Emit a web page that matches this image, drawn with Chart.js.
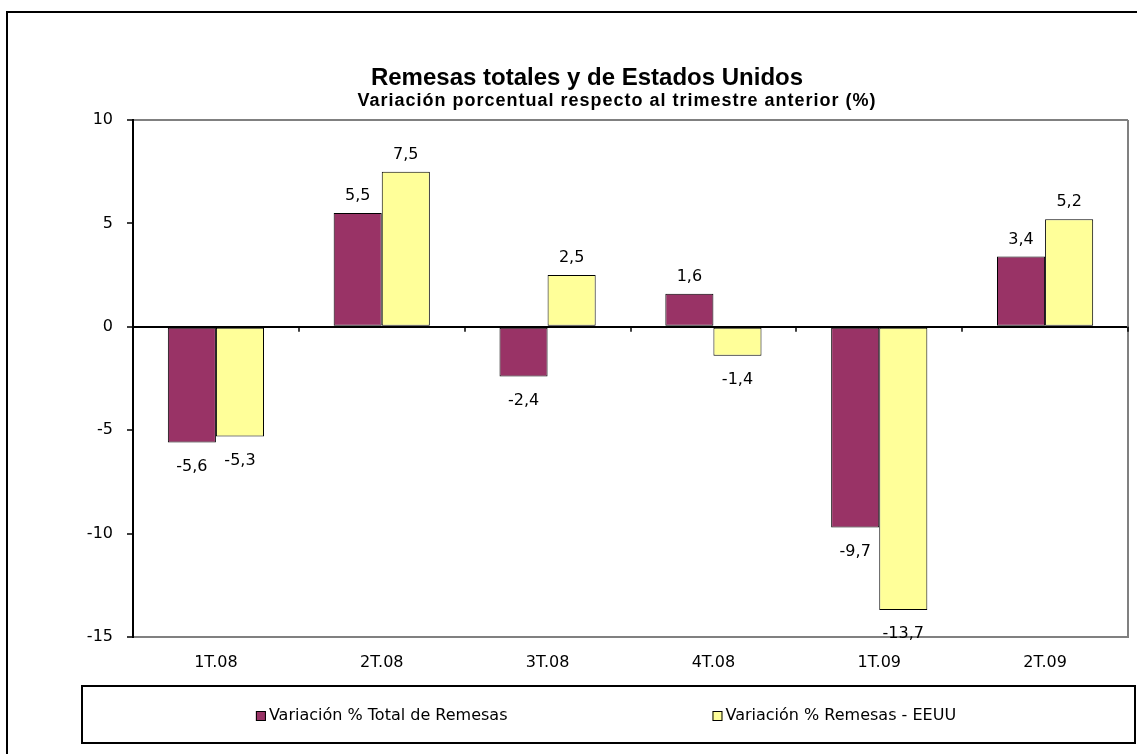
<!DOCTYPE html>
<html>
<head>
<meta charset="utf-8">
<script src="https://cdn.jsdelivr.net/npm/chart.js@4.4.0/dist/chart.umd.min.js"></script>
<style>
  html, body { margin: 0; padding: 0; background: #fff; }
  #wrap { width: 1137px; height: 754px; }
</style>
</head>
<body>
<div id="wrap"><canvas id="chart" width="1137" height="754"></canvas></div>
<script>
// data
const quarters = ['1T.08', '2T.08', '3T.08', '4T.08', '1T.09', '2T.09'];
const totalRemesas = [-5.6, 5.5, -2.4, 1.6, -9.7, 3.4];
const remesasEEUU = [-5.3, 7.5, 2.5, -1.4, -13.7, 5.2];
const seriesNames = ['Variación % Total de Remesas', 'Variación % Remesas - EEUU'];
const chartTitle = 'Remesas totales y de Estados Unidos';
const chartSubtitle = 'Variación porcentual respecto al trimestre anterior (%)';
const yMin = -15, yMax = 10, yStep = 5;

const labelFont = '16px "DejaVu Sans", sans-serif';

// frame around the whole chart, titles, gray plot border on the right
const framePlugin = {
    id: 'frame',
    beforeDraw(chart) {
        const ctx = chart.ctx;
        ctx.save();
        ctx.fillStyle = '#fff';
        ctx.fillRect(0, 0, chart.width, chart.height);
        ctx.strokeStyle = '#000';
        ctx.lineWidth = 2;
        ctx.strokeRect(7, 12, chart.width + 20, chart.height + 20);

        ctx.fillStyle = '#000';
        ctx.textAlign = 'center';
        ctx.textBaseline = 'middle';
        ctx.font = 'bold 24px "Liberation Sans", Arial, sans-serif';
        ctx.fillText(chartTitle, 587, 78);
        ctx.font = 'bold 18px "Liberation Sans", Arial, sans-serif';
        if ('letterSpacing' in ctx) ctx.letterSpacing = '1px';
        ctx.fillText(chartSubtitle, 617, 101);
        ctx.restore();
    },
    afterDraw(chart) {
        const ctx = chart.ctx;
        const area = chart.chartArea;
        const x = chart.scales.x;
        const y0 = chart.scales.y.getPixelForValue(0);
        ctx.save();
        ctx.strokeStyle = '#808080';
        ctx.lineWidth = 2;
        ctx.beginPath();
        ctx.moveTo(area.right, area.top);
        ctx.lineTo(area.right, area.bottom);
        ctx.stroke();
        // category tick marks hanging from the zero line
        ctx.strokeStyle = '#000';
        ctx.lineWidth = 1.5;
        for (let i = 1; i <= quarters.length; i++) {
            const px = Math.round(x.getPixelForValue(i - 0.5));
            ctx.beginPath();
            ctx.moveTo(px, y0);
            ctx.lineTo(px, y0 + 5);
            ctx.stroke();
        }
        ctx.restore();
    }
};

// value labels above / below the bars
const valueLabels = {
    id: 'valueLabels',
    afterDatasetsDraw(chart) {
        const ctx = chart.ctx;
        ctx.save();
        ctx.font = labelFont;
        ctx.fillStyle = '#000';
        ctx.textAlign = 'center';
        ctx.textBaseline = 'middle';
        chart.data.datasets.forEach((ds, di) => {
            chart.getDatasetMeta(di).data.forEach((bar, i) => {
                const v = ds.data[i];
                const txt = v.toFixed(1).replace('.', ',');
                const ty = v >= 0 ? bar.y - 17 : bar.y + 24;
                ctx.fillText(txt, bar.x, ty);
            });
        });
        ctx.restore();
    }
};

// boxed legend along the bottom
const boxLegend = {
    id: 'boxLegend',
    afterDraw(chart) {
        const ctx = chart.ctx;
        ctx.save();
        ctx.strokeStyle = '#000';
        ctx.lineWidth = 2;
        ctx.strokeRect(82, 686, 1053, 57);
        ctx.font = labelFont;
        ctx.textBaseline = 'middle';
        const gap = 205, sw = 10, tgap = 3;
        const ds = chart.data.datasets;
        const widths = ds.map(d => ctx.measureText(d.label).width);
        const total = widths.reduce((a, w) => a + sw + tgap + w, 0) + gap * (ds.length - 1);
        let cx = 606 - total / 2;
        const cy = 716;
        ds.forEach((d, i) => {
            ctx.fillStyle = d.backgroundColor;
            ctx.fillRect(cx, cy - 5, sw, sw);
            ctx.strokeStyle = '#000';
            ctx.lineWidth = 1;
            ctx.strokeRect(cx + 0.5, cy - 4.5, sw - 1, sw - 1);
            ctx.fillStyle = '#000';
            ctx.fillText(d.label, cx + sw + tgap, cy);
            cx += sw + tgap + widths[i] + gap;
        });
        ctx.restore();
    }
};

new Chart(document.getElementById('chart'), {
    type: 'bar',
    data: {
        labels: quarters,
        datasets: [{
            label: seriesNames[0],
            data: totalRemesas,
            backgroundColor: '#993366',
            borderColor: '#000',
            borderWidth: 1,
            borderSkipped: false
        }, {
            label: seriesNames[1],
            data: remesasEEUU,
            backgroundColor: '#FFFF99',
            borderColor: '#000',
            borderWidth: 1,
            borderSkipped: false
        }]
    },
    options: {
        responsive: false,
        animation: false,
        layout: { padding: { left: 0, right: 9, top: 120, bottom: 0 } },
        datasets: { bar: { barPercentage: 1, categoryPercentage: 0.58 } },
        plugins: {
            legend: { display: false },
            tooltip: { enabled: false }
        },
        scales: {
            x: {
                grid: { display: false },
                border: { display: true, color: '#808080', width: 2 },
                ticks: { color: '#000', font: { family: '"DejaVu Sans", sans-serif', size: 16 }, padding: 8 },
                afterFit(scale) { scale.height = 117; }
            },
            y: {
                min: yMin,
                max: yMax,
                ticks: { stepSize: yStep, color: '#000', font: { family: '"DejaVu Sans", sans-serif', size: 16 }, padding: 14 },
                grid: {
                    color: c => c.tick.value === 0 ? '#000' : (c.tick.value === yMax ? '#808080' : 'rgba(0,0,0,0)'),
                    lineWidth: 2,
                    tickColor: '#000',
                    tickLength: 6,
                    tickWidth: 1.5
                },
                border: { display: true, color: '#000', width: 2 },
                afterFit(scale) { scale.width = 133; }
            }
        }
    },
    plugins: [framePlugin, valueLabels, boxLegend]
});
</script>
</body>
</html>
